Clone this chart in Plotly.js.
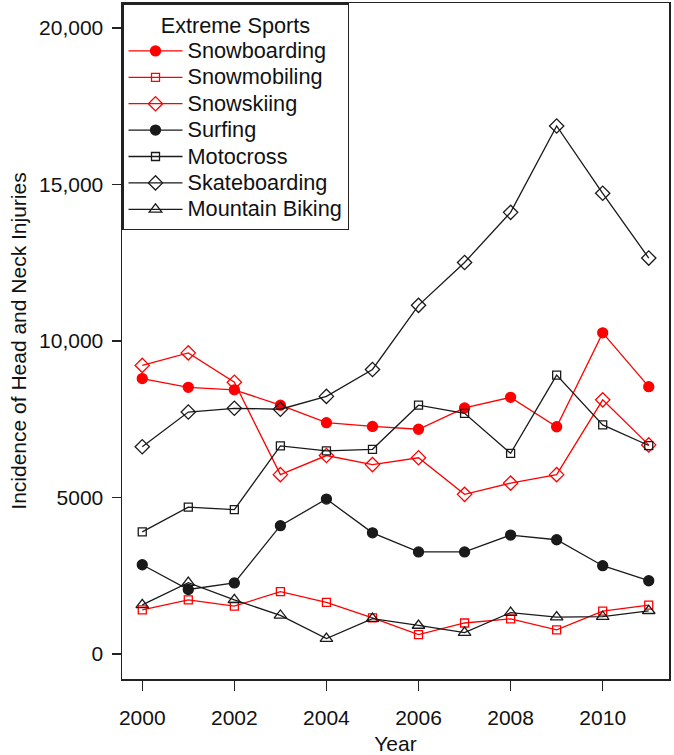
<!DOCTYPE html>
<html>
<head>
<meta charset="utf-8">
<script src="https://cdn.plot.ly/plotly-3.0.1.min.js"></script>
<style>html,body{margin:0;padding:0;background:#fff;}#chart{width:674px;height:755px;}</style>
</head>
<body>
<div id="chart"></div>
<script>
const years = [2000, 2001, 2002, 2003, 2004, 2005, 2006, 2007, 2008, 2009, 2010, 2011];
const snowboarding   = [8800, 8520, 8440, 7950, 7390, 7270, 7180, 7860, 8200, 7260, 10260, 8540];
const snowmobiling   = [1410, 1730, 1530, 1990, 1650, 1150, 620, 990, 1120, 770, 1370, 1560];
const snowskiing     = [9220, 9620, 8680, 5730, 6340, 6050, 6270, 5100, 5460, 5730, 8120, 6680];
const surfing        = [2850, 2060, 2270, 4100, 4950, 3870, 3260, 3260, 3800, 3650, 2820, 2340];
const motocross      = [3900, 4690, 4610, 6650, 6490, 6540, 7950, 7690, 6410, 8910, 7320, 6660];
const skateboarding  = [6620, 7730, 7850, 7820, 8230, 9090, 11140, 12510, 14110, 16870, 14720, 12650];
const mountainBiking = [1570, 2280, 1730, 1230, 490, 1130, 910, 680, 1320, 1180, 1190, 1380];

const seriesNames = ["Snowboarding", "Snowmobiling", "Snowskiing", "Surfing", "Motocross", "Skateboarding", "Mountain Biking"];
const legendTitle = "Extreme Sports";

const yTickVals = [0, 5000, 10000, 15000, 20000];
const yTickText = ["0", "5000", "10,000", "15,000", "20,000"];
const xTickVals = [2000, 2002, 2004, 2006, 2008, 2010];

const RED = "#ff0000";
const BLK = "#1a1a1a";
const LEG_PX = 21.7;

function tr(name, y, color, symbol, size) {
  return {
    x: years, y: y, type: "scatter", mode: "lines+markers",
    name: "<span style='font-size:" + LEG_PX + "px'>" + name + "</span>",
    line: {color: color, width: 1.3},
    marker: {symbol: symbol, size: size, color: color, line: {color: color, width: 1.3}}
  };
}

const data = [
  tr(seriesNames[0], snowboarding, RED, "circle", 10),
  tr(seriesNames[1], snowmobiling, RED, "square-open", 8),
  tr(seriesNames[2], snowskiing, RED, "diamond-open", 11),
  tr(seriesNames[3], surfing, BLK, "circle", 10),
  tr(seriesNames[4], motocross, BLK, "square-open", 8),
  tr(seriesNames[5], skateboarding, BLK, "diamond-open", 11),
  tr(seriesNames[6], mountainBiking, BLK, "triangle-up-open", 11)
];

const FONT = "Liberation Sans, Arial, sans-serif";

const layout = {
  width: 674, height: 755,
  margin: {l: 122, r: 5, t: 3, b: 76},
  paper_bgcolor: "#fff", plot_bgcolor: "#fff",
  font: {family: FONT, size: 21, color: "#111"},
  showlegend: true,
  xaxis: {
    range: [1999.56, 2011.44], tickvals: xTickVals, ticktext: xTickVals.map(String),
    showgrid: false, zeroline: false,
    showline: true, mirror: true, linecolor: "#222", linewidth: 1.5,
    ticks: "outside", ticklen: 10, tickwidth: 1.5, tickcolor: "#222",
    ticklabelstandoff: 9,
    tickfont: {size: 21, family: FONT},
    title: {text: "Year", font: {size: 21, family: FONT}, standoff: 8}
  },
  yaxis: {
    range: [-800, 20800], tickvals: yTickVals, ticktext: yTickText,
    showgrid: false, zeroline: false,
    showline: true, mirror: true, linecolor: "#222", linewidth: 1.5,
    ticks: "outside", ticklen: 9, tickwidth: 1.5, tickcolor: "#222",
    ticklabelstandoff: 4,
    tickfont: {size: 21, family: FONT},
    title: {text: "Incidence of Head and Neck Injuries", font: {size: 21, family: FONT}, standoff: 6}
  },
  legend: {
    x: 0, y: 1, xanchor: "left", yanchor: "top",
    bgcolor: "#fff", bordercolor: "#222", borderwidth: 1.5,
    font: {size: 18, family: FONT},
    title: {text: legendTitle, side: "top center", font: {size: LEG_PX, family: FONT}},
    tracegroupgap: 0, itemwidth: 54
  }
};

Plotly.newPlot("chart", data, layout, {displayModeBar: false, staticPlot: true});
</script>
</body>
</html>
